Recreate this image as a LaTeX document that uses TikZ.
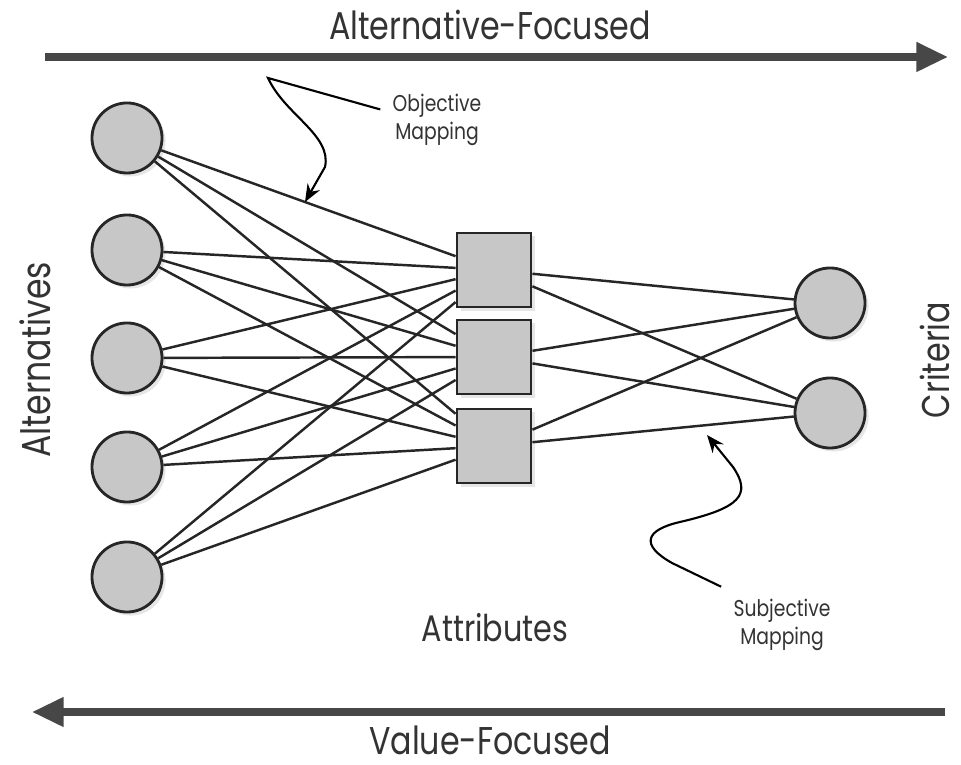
\documentclass[tikz,border=0pt]{standalone}
\usepackage{fontspec}
\newfontfamily\lblfont[FakeStretch=0.82]{Poppins}
\usetikzlibrary{arrows.meta,shadows}

\begin{document}
\begin{tikzpicture}[x=0.01cm, y=-0.01cm]
	\tikzstyle{every node} = [font=\lblfont, text=black!80]
	\tikzstyle{alt}  = [circle, draw=black!85, line width=0.8pt, fill=black!22, minimum size=0.7cm, inner sep=0pt, drop shadow={shadow xshift=1pt, shadow yshift=-1pt, opacity=0.2}]
	\tikzstyle{attr} = [rectangle, draw=black!85, line width=0.8pt, fill=black!22, minimum size=0.74cm, inner sep=0pt, drop shadow={shadow xshift=1pt, shadow yshift=-1pt, opacity=0.2}]
	\tikzstyle{link} = [line width=0.7pt, draw=black!85]
	\tikzstyle{bigarrow} = [line width=2pt, draw=black!72, -{Triangle[length=9pt, width=8pt]}]
	\tikzstyle{note} = [line width=0.6pt, -{Stealth[length=5pt, width=4pt]}]
	\tikzstyle{small} = [align=center, font=\lblfont\fontsize{6.5}{8}\selectfont]
	\useasboundingbox (0,0) rectangle (961,765);
	% direction arrows
	\node [font=\lblfont\fontsize{11}{13}\selectfont] (af) at (490,25) {Alternative-Focused};
	\coordinate (afstart) at (45,57);
	\coordinate (afend)   at (948,57);
	\draw [bigarrow] (afstart) -- (afend);
	\node [font=\lblfont\fontsize{11}{13}\selectfont] (vf) at (490,740) {Value-Focused};
	\coordinate (vfstart) at (945,712);
	\coordinate (vfend)   at (32,712);
	\draw [bigarrow] (vfstart) -- (vfend);
	% alternatives
	\node [alt] (a1) at (127,138) {};
	\node [alt] (a2) at (127,250) {};
	\node [alt] (a3) at (127,358) {};
	\node [alt] (a4) at (127,467) {};
	\node [alt] (a5) at (127,577) {};
	\node [rotate=90, font=\lblfont\fontsize{11.5}{13}\selectfont] (alts) at (35,360) {Alternatives};
	% attributes
	\node [attr] (t1) at (494,270) {};
	\node [attr] (t2) at (494,357) {};
	\node [attr] (t3) at (494,446) {};
	\node [font=\lblfont\fontsize{10.5}{12}\selectfont] (attrs) at (495,628) {Attributes};
	% criteria
	\node [alt] (c1) at (830,303) {};
	\node [alt] (c2) at (830,413) {};
	\node [rotate=90, font=\lblfont\fontsize{11}{13}\selectfont] (crit) at (935,360) {Criteria};
	% objective mapping
	\draw [link] (a1) -- (t1);
	\draw [link] (a1) -- (t2);
	\draw [link] (a1) -- (t3);
	\draw [link] (a2) -- (t1);
	\draw [link] (a2) -- (t2);
	\draw [link] (a2) -- (t3);
	\draw [link] (a3) -- (t1);
	\draw [link] (a3) -- (t2);
	\draw [link] (a3) -- (t3);
	\draw [link] (a4) -- (t1);
	\draw [link] (a4) -- (t2);
	\draw [link] (a4) -- (t3);
	\draw [link] (a5) -- (t1);
	\draw [link] (a5) -- (t2);
	\draw [link] (a5) -- (t3);
	% subjective mapping
	\draw [link] (t1) -- (c1);
	\draw [link] (t1) -- (c2);
	\draw [link] (t2) -- (c1);
	\draw [link] (t2) -- (c2);
	\draw [link] (t3) -- (c1);
	\draw [link] (t3) -- (c2);
	% notes
	\node [small] (obj) at (437,120) {Objective\\Mapping};
	\coordinate (objtip) at (305,202);
	\draw [note] ([yshift=3pt]obj.west) -- (268,78) .. controls (285,115) and (332,135) .. (325,167) -- (objtip);
	\node [small] (subj) at (782,625) {Subjective\\Mapping};
	\coordinate (subjtip) at (707,435);
	\draw [note] (subj.north west) -- (672,563) .. controls (640,545) and (645,530) .. (680,522) .. controls (740,508) and (752,495) .. (733,467) -- (subjtip);
\end{tikzpicture}
\end{document}
